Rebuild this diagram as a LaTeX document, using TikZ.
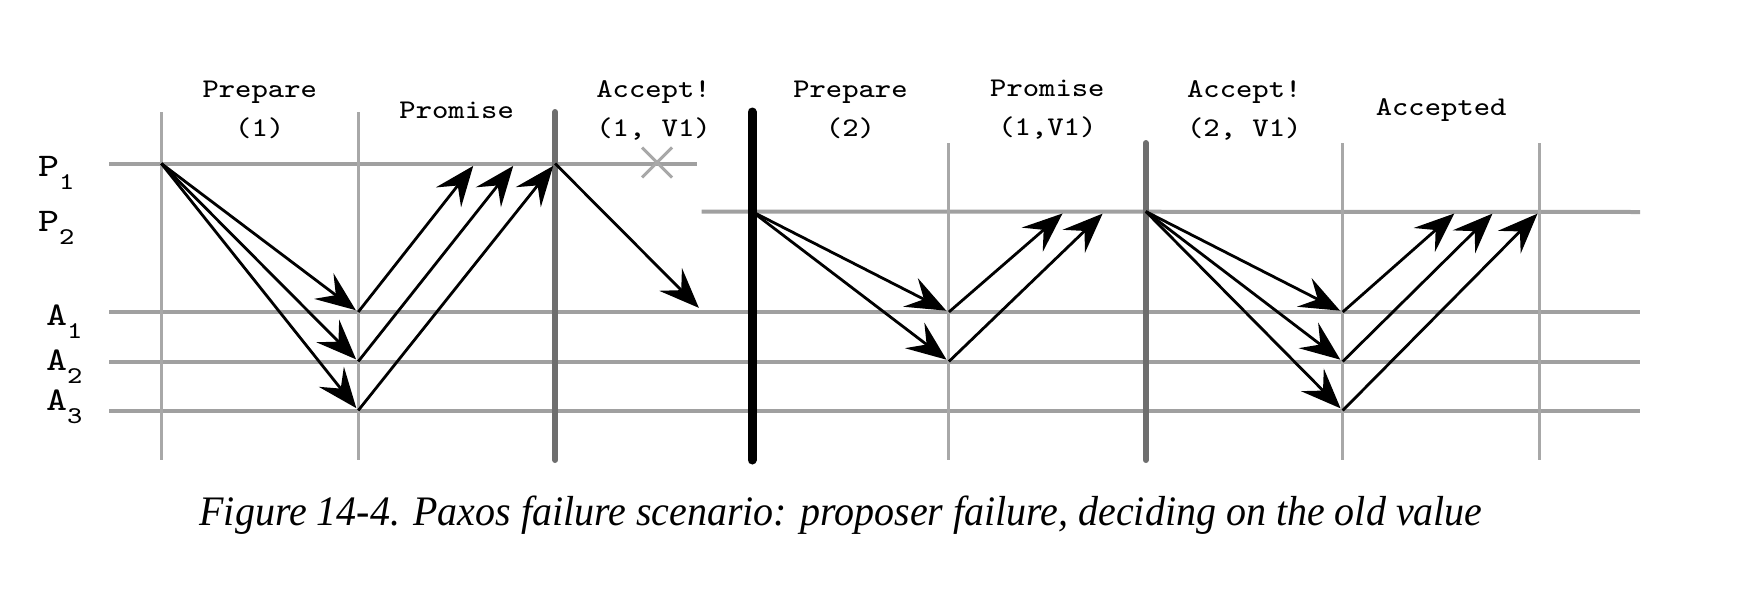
\documentclass[tikz,border=0pt]{standalone}
\usepackage{graphicx}
\usepackage{fontspec}
\setmainfont{Liberation Serif}
\newfontfamily\heavytt{lmmono8-regular.otf}
\usetikzlibrary{arrows.meta,calc}
\definecolor{lg}{HTML}{A8A8A8}
\definecolor{hg}{HTML}{A0A0A0}
\definecolor{dg}{HTML}{6E6E6E}
\newcommand\mt[1]{\scalebox{1.14}[1]{#1}}
\newcommand\sublbl[2]{\scalebox{1.2}[1]{\fontsize{33}{33}\selectfont\heavytt #1\raisebox{-0.42em}{\fontsize{24}{24}\selectfont #2}}}
\begin{document}
\begin{tikzpicture}[x=1pt,y=-1pt,
  vthin/.style={line width=3pt,draw=lg},
  vbar/.style={line width=6pt,draw=dg,line cap=round},
  vblack/.style={line width=9pt,draw=black,line cap=round},
  hline/.style={line width=4pt,draw=hg},
  msg/.style={line width=2.8pt,draw=black,-{Stealth[length=40pt,width=32pt,inset=15pt]},shorten >=3pt},
  xmark/.style={line width=3pt,draw=lg},
  phase/.style={align=center,inner sep=0pt,font=\fontsize{27}{39}\selectfont\heavytt},
  who/.style={anchor=base west,inner sep=0pt},
]
\path[use as bounding box] (0,0) rectangle (1758,592);
\foreach \k in {0,...,7}{
  \pgfmathsetmacro\xx{161.3+196.9*\k}
  \pgfmathsetmacro\yt{\k<4 ? 112 : 143}
  \coordinate (c\k T) at (\xx,\yt);
  \coordinate (c\k P1) at (\xx,163.5);
  \coordinate (c\k P2) at (\xx,211.5);
  \coordinate (c\k A1) at (\xx,312);
  \coordinate (c\k A2) at (\xx,361.5);
  \coordinate (c\k A3) at (\xx,410.5);
  \coordinate (c\k B) at (\xx,460);
}
% horizontal lines
\coordinate (P1L) at (109,163.5); \coordinate (P1R) at (697,163.5);
\coordinate (P2L) at (701.5,211.5); \coordinate (P2R) at (1640,212);
\coordinate (A1L) at (109,312); \coordinate (A1R) at (1640,312);
\coordinate (A2L) at (109,361.5); \coordinate (A2R) at (1640,361.5);
\coordinate (A3L) at (109,410.5); \coordinate (A3R) at (1640,410.5);
\draw[hline] (P1L) -- (P1R);
\draw[hline] (P2L) -- (P2R);
\draw[hline] (A1L) -- (A1R);
\draw[hline] (A2L) -- (A2R);
\draw[hline] (A3L) -- (A3R);
% vertical lines
\foreach \k in {0,1,4,6,7} \draw[vthin] (c\k T) -- (c\k B);
\draw[vbar] (c2T) -- (c2B);
\draw[vbar] (c5T) -- (c5B);
\draw[vblack] (c3T) -- (c3B);
% crash mark
\coordinate (xc) at (657,162.5);
\draw[xmark] ($(xc)+(-15,-15)$) -- ($(xc)+(15,15)$) ($(xc)+(-15,15)$) -- ($(xc)+(15,-15)$);
% group 1
\draw[msg] (c0P1) -- (c1A1);
\draw[msg] (c0P1) -- (c1A2);
\draw[msg] (c0P1) -- (c1A3);
\coordinate (r1a) at ($(c2P1)+(-80,0)$);
\coordinate (r1b) at ($(c2P1)+(-40,0)$);
\draw[msg] (c1A1) -- (r1a);
\draw[msg] (c1A2) -- (r1b);
\draw[msg] (c1A3) -- (c2P1);
\coordinate (acc) at (701,310);
\draw[msg] (c2P1) -- (acc);
% group 2
\draw[msg] (c3P2) -- (c4A1);
\draw[msg] (c3P2) -- (c4A2);
\coordinate (r2a) at ($(c5P2)+(-81,0)$);
\coordinate (r2b) at ($(c5P2)+(-41,0)$);
\draw[msg] (c4A1) -- (r2a);
\draw[msg] (c4A2) -- (r2b);
% group 3
\draw[msg] (c5P2) -- (c6A1);
\draw[msg] (c5P2) -- (c6A2);
\draw[msg] (c5P2) -- (c6A3);
\coordinate (r3a) at ($(c7P2)+(-83,0)$);
\coordinate (r3b) at ($(c7P2)+(-45,0)$);
\draw[msg] (c6A1) -- (r3a);
\draw[msg] (c6A2) -- (r3b);
\draw[msg] (c6A3) -- (c7P2);
% phase labels
\node[phase] (l0) at (259.75,110) {\mt{Prepare}\\\mt{(1)}};
\node[phase] (l1) at (456.65,110) {\mt{Promise}};
\node[phase] (l2) at (653.55,110) {\mt{Accept!}\\\mt{(1, V1)}};
\node[phase] (l3) at (850.45,110) {\mt{Prepare}\\\mt{(2)}};
\node[phase] (l4) at (1047.35,110) {\mt{Promise}\\\mt{(1,V1)}};
\node[phase] (l5) at (1244.25,110) {\mt{Accept!}\\\mt{(2, V1)}};
\node[phase] (l6) at (1441.15,110) {\mt{Accepted}};
% process labels
\node[who] (nP1) at (38,176) {\sublbl{P}{1}};
\node[who] (nP2) at (38,231) {\sublbl{P}{2}};
\node[who] (nA1) at (46,325) {\sublbl{A}{1}};
\node[who] (nA2) at (46,370) {\sublbl{A}{2}};
\node[who] (nA3) at (46,410) {\sublbl{A}{3}};
% caption
\node[anchor=base,inner sep=0pt] (cap) at (841,525) {\resizebox{1283pt}{\height}{\fontsize{42}{46}\selectfont\itshape Figure 14-4. Paxos failure scenario: proposer failure, deciding on the old value}};
\end{tikzpicture}
\end{document}
